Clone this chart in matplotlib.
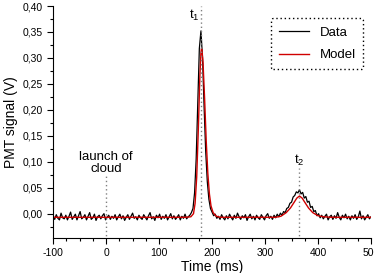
import numpy as np
import matplotlib
matplotlib.use('Agg')
import matplotlib.pyplot as plt
from matplotlib.ticker import MultipleLocator, FuncFormatter

plt.rcParams['font.family'] = ['Liberation Sans', 'DejaVu Sans']
plt.rcParams['axes.unicode_minus'] = False

# measured PMT trace, one sample every 3 ms from -100 to 500 ms
data_t = np.arange(-100, 501, 3)
data_v = [
    -0.004, -0.011, -0.002, -0.009, -0.012, 0.001, -0.008, -0.010, -0.003, -0.012,
    -0.005, 0.003, -0.011, -0.006, -0.001, -0.012, -0.004, 0.004, -0.010, -0.007,
    -0.002, -0.012, -0.005, 0.002, -0.011, -0.008, -0.001, -0.013, -0.006, -0.003,
    -0.010, -0.004, 0.000, -0.012, -0.007, -0.003, -0.011, -0.005, -0.009, -0.002,
    -0.012, -0.006, -0.001, -0.010, -0.004, -0.013, -0.007, -0.002, -0.011, -0.005,
    0.001, -0.009, -0.006, -0.012, -0.003, -0.008, -0.011, -0.002, -0.007, -0.012,
    -0.004, 0.002, -0.010, -0.006, -0.013, -0.003, -0.008, -0.001, -0.011, -0.005,
    -0.009, -0.002, -0.012, -0.006, 0.000, -0.010, -0.004, -0.011, -0.007, -0.002,
    -0.012, -0.005, -0.009, -0.001, -0.010, -0.006, -0.003, 0.002, 0.010, 0.040,
    0.105, 0.215, 0.318, 0.352, 0.300, 0.205, 0.120, 0.062, 0.028, 0.010,
    0.003, -0.004, -0.001, -0.009, -0.005, -0.011, -0.002, -0.008, -0.012, -0.004,
    -0.010, -0.001, -0.007, -0.012, -0.003, -0.009, 0.001, -0.006, -0.011, -0.004,
    -0.008, -0.002, -0.013, -0.006, -0.001, -0.010, -0.005, -0.012, -0.003, -0.008,
    -0.011, -0.002, -0.007, -0.012, -0.004, 0.000, -0.009, -0.005, -0.011, -0.003,
    -0.008, -0.001, -0.006, 0.001, -0.003, 0.004, 0.002, 0.010, 0.012, 0.020,
    0.022, 0.032, 0.035, 0.042, 0.040, 0.046, 0.038, 0.041, 0.030, 0.033,
    0.022, 0.024, 0.012, 0.014, 0.004, 0.006, -0.004, 0.000, -0.008, -0.003,
    -0.010, -0.005, -0.001, -0.012, -0.006, -0.003, -0.011, -0.004, -0.009, 0.002,
    -0.007, -0.012, -0.003, -0.008, -0.001, -0.010, -0.005, -0.012, -0.004, -0.009,
    -0.002, -0.011, -0.006, 0.005, -0.010, -0.004, -0.012, -0.007, -0.002, -0.010,
    -0.006,
]

# fitted model
model_t = [-100, 150, 160, 165, 168, 171, 174, 177, 179, 180, 181, 183, 186, 189,
           192, 195, 198, 202, 208, 215, 320, 330, 340, 348, 355, 360, 365, 370,
           375, 382, 390, 400, 410, 425, 500]
model_v = [-0.007, -0.007, -0.006, 0.000, 0.020, 0.070, 0.160, 0.265, 0.310, 0.318,
           0.315, 0.290, 0.220, 0.140, 0.078, 0.038, 0.015, 0.002, -0.005, -0.007,
           -0.007, -0.005, 0.002, 0.011, 0.022, 0.030, 0.034, 0.030, 0.022, 0.011,
           0.002, -0.004, -0.006, -0.007, -0.007]

t_launch = 0
t1 = 179
t2 = 365

fig = plt.figure(figsize=(3.74, 2.73), dpi=100)
ax = fig.add_axes([0.142, 0.128, 0.850, 0.850])

ax.plot(data_t, data_v, color='black', lw=0.9, label='Data')
ax.plot(model_t, model_v, color='#d00000', lw=1.0, label='Model')

# marker lines
ax.plot([t_launch, t_launch], [-0.05, 0.075], color='grey', ls=(0, (1, 2)), lw=1.0)
ax.plot([t1, t1], [-0.05, 0.40], color='grey', ls=(0, (1, 2)), lw=1.0)
ax.plot([t2, t2], [-0.05, 0.088], color='grey', ls=(0, (1, 2)), lw=1.0)

ax.text(t_launch, 0.097, 'launch of\ncloud', ha='center', va='center',
        fontsize=9.5, linespacing=1.0)
ax.text(t1 - 3, 0.381, '$\\mathregular{t_1}$', ha='right', va='center', fontsize=9.5)
ax.text(t2, 0.103, '$\\mathregular{t_2}$', ha='center', va='center', fontsize=9.5)

ax.set_xlim(-100, 500)
ax.set_ylim(-0.047, 0.40)
ax.xaxis.set_major_locator(MultipleLocator(100))
ax.xaxis.set_minor_locator(MultipleLocator(25))
ax.yaxis.set_major_locator(MultipleLocator(0.05))
ax.yaxis.set_minor_locator(MultipleLocator(0.025))
ax.yaxis.set_major_formatter(FuncFormatter(lambda v, p: f'{v:.2f}'.replace('.', ',').replace('-0,00', '0,00')))

for s in ['top', 'right']:
    ax.spines[s].set_visible(False)
ax.tick_params(which='major', length=4, width=0.8, labelsize=7.5, direction='out')
ax.tick_params(which='minor', length=2, width=0.8, direction='out')

ax.set_xlabel('Time (ms)', fontsize=10, labelpad=1)
ax.set_ylabel('PMT signal (V)', fontsize=10, labelpad=3)

leg = ax.legend(loc='upper right', bbox_to_anchor=(0.997, 0.975), fontsize=9.5,
                handlelength=2.3, borderpad=0.6, labelspacing=0.8, fancybox=True)
leg.get_frame().set_linestyle((0, (1, 2)))
leg.get_frame().set_edgecolor('black')
leg.get_frame().set_linewidth(1.0)
leg.get_frame().set_alpha(1)

fig.savefig('out.png', dpi=100)
